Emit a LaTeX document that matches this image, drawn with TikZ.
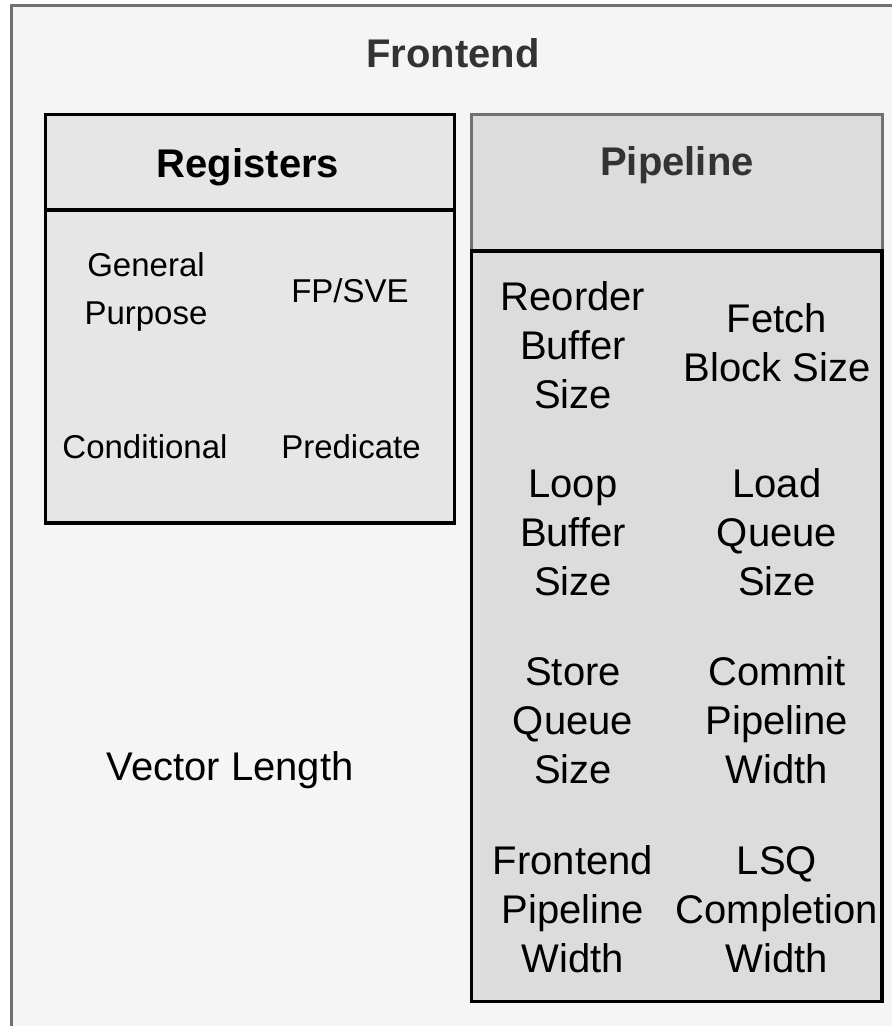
\documentclass[tikz,border=0pt]{standalone}
\usepackage{fontspec}
\setmainfont{Liberation Sans}
\usepackage{xcolor}
\usepackage{tikz}
\usetikzlibrary{positioning}
\definecolor{edge}{RGB}{112,112,112}
\definecolor{canvas}{RGB}{245,245,245}
\definecolor{regfill}{RGB}{230,230,230}
\definecolor{pipefill}{RGB}{220,220,220}
\definecolor{dark}{RGB}{51,51,51}
\tikzset{
    panel/.style={rectangle, draw, line width=3.5pt, anchor=north west, inner sep=0pt, outer sep=0pt},
    heading/.style={anchor=base, font=\bfseries\fontsize{40}{48}\selectfont},
    reglabel/.style={anchor=base, align=center, font=\fontsize{33}{48}\selectfont},
    pipelabel/.style={anchor=base, align=center, font=\fontsize{40}{49}\selectfont}
}

\begin{document}
\begin{tikzpicture}[x=1pt, y=-1pt]
    \fill[white] (0,0) rectangle (892,1026);
    \useasboundingbox (0,0) rectangle (892,1026);

    % Outer frame
    \node[panel, draw=edge, line width=3pt, fill=canvas, minimum width=885, minimum height=1026] (outer) at (11.5,5) {};
    \node[heading, text=dark] (frontend) at (453,67) {Frontend};

    % Registers block
    \node[panel, fill=regfill, minimum width=409.4, minimum height=95.3] (reghead) at (45.3,114.7) {};
    \node[panel, fill=regfill, minimum width=409.4, minimum height=313] (regbody) at (45.3,210) {};
    \node[heading] (registers) at (248,177) {Registers};

    % (base anchor = last line)
    \node[reglabel] (general) at (146,324) {General\\Purpose};
    \node[reglabel] (fpsve) at (350,302) {FP/SVE};
    \node[reglabel] (cond) at (145,458) {Conditional};
    \node[reglabel] (pred) at (351,458) {Predicate};

    % Pipeline block
    \node[panel, draw=edge, line width=3pt, fill=pipefill, minimum width=410.3, minimum height=136.5] (pipehead) at (471.7,114.5) {};
    \node[panel, fill=pipefill, minimum width=410.3, minimum height=750.5] (pipebody) at (471.7,251) {};
    \node[heading, text=dark] (pipeline) at (677,175) {Pipeline};

    \node[pipelabel] (rob) at (573,408) {Reorder\\Buffer\\Size};
    \node[pipelabel] (fetch) at (777,381) {Fetch\\Block Size};
    \node[pipelabel] (loopbuf) at (573,595) {Loop\\Buffer\\Size};
    \node[pipelabel] (loadq) at (777,595) {Load\\Queue\\Size};
    \node[pipelabel] (storeq) at (573,783) {Store\\Queue\\Size};
    \node[pipelabel] (commit) at (777,783) {Commit\\Pipeline\\Width};
    \node[pipelabel] (fewidth) at (573,972) {Frontend\\Pipeline\\Width};
    \node[pipelabel] (lsq) at (777,972) {LSQ\\Completion\\Width};

    % Free-standing label
    \node[pipelabel] (veclen) at (230,780) {Vector Length};
\end{tikzpicture}
\end{document}
